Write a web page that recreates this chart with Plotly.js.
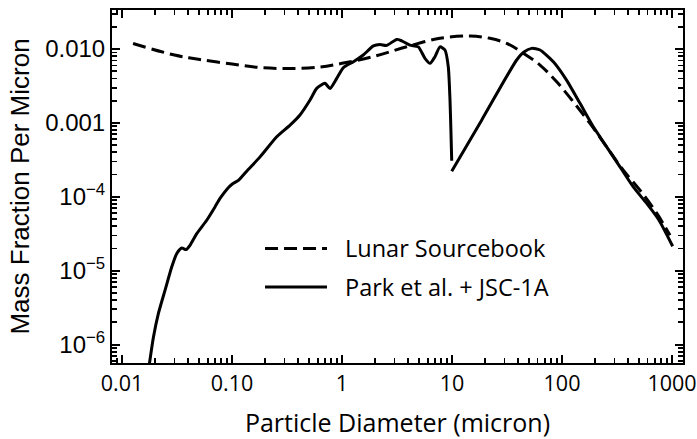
<!DOCTYPE html>
<html>
<head>
<meta charset="utf-8">
<script src="https://cdn.plot.ly/plotly-3.0.1.min.js"></script>
<style>html,body{margin:0;padding:0;background:#fff}#chart{width:697px;height:439px}</style>
</head>
<body>
<div id="chart"></div>
<script>
// Lunar Sourcebook (dashed)
const lunarX = [0.0126,0.030,0.051,0.1,0.18,0.337,0.63,1.0,1.91,3.87,7.78,14.6,22.1,31.4,44.5,63.1,89.5,126.7,179.7,254.7,360.7,511,726,959];
const lunarY = [0.01187,0.00829,0.00721,0.00627,0.00561,0.00545,0.0057,0.0064,0.00787,0.01074,0.01396,0.0150,0.01396,0.01194,0.00875,0.00607,0.0036,0.00193,9.84e-4,4.74e-4,2.29e-4,1.23e-4,6.0e-5,3.02e-5];

// Park et al. + JSC-1A (solid), fine part up to 10 micron
const parkFineX = [0.0174,0.0193,0.0214,0.0246,0.0283,0.0314,0.0349,0.0382,0.0415,0.0478,0.0589,0.070,0.0778,0.09,0.1,0.115,0.136,0.18,0.255,0.337,0.415,0.512,0.589,0.70,0.778,0.895,1.03,1.27,1.56,1.93,2.21,2.55,3.14,3.49,4.15,4.94,5.68,6.31,7.0,7.78,8.63,9.25,9.59,9.79,9.94];
const parkFineY = [4.5e-7,1.26e-6,2.62e-6,5.42e-6,1.12e-5,1.7e-5,2.03e-5,1.93e-5,2.21e-5,3.18e-5,4.82e-5,7.3e-5,9.5e-5,1.27e-4,1.48e-4,1.68e-4,2.22e-4,3.47e-4,6.49e-4,9.33e-4,1.28e-3,2.04e-3,2.93e-3,3.43e-3,2.93e-3,4.01e-3,5.61e-3,6.73e-3,8.3e-3,0.0110,0.0115,0.0112,0.0135,0.0129,0.0113,0.0107,0.00748,0.0064,0.00787,0.0107,0.0097,0.00575,0.00204,7.2e-4,3.07e-4];
// coarse part from 10 micron
const parkCoarseX = [9.94,18.6,38.7,45.1,53,63.1,83.4,110,145.8,192.7,254.7,336.7,444.6,589,762,1014];
const parkCoarseY = [2.22e-4,1.09e-3,0.0071,0.0091,0.0102,0.0097,0.00673,0.0038,1.84e-3,8.86e-4,4.74e-4,2.54e-4,1.36e-4,8.13e-5,4.82e-5,2.14e-5];

const xTickVals = [0.01,0.1,1,10,100,1000];
const xTickText = ["0.01","0.10","1","10","100","1000"];
const yTickVals = [1e-6,1e-5,1e-4,0.001,0.01];
const yTickText = ["10<sup>\u22126</sup>","10<sup>\u22125</sup>","10<sup>\u22124</sup>","0.001","0.010"];
const legendNames = ["Lunar Sourcebook","Park et al. + JSC-1A"];

const parkX = parkFineX.concat([null], parkCoarseX);
const parkY = parkFineY.concat([null], parkCoarseY);

// minor log tick positions (2..9 in each decade)
function minorLogTicks(d0, d1) {
  const out = [];
  for (let d = d0; d <= d1; d++) for (let k = 2; k <= 9; k++) out.push(k * Math.pow(10, d));
  return out;
}

const calibriLike = "'Open Sans', Lato, sans-serif";
const arialLike = "'Liberation Sans', Arial, sans-serif";
const xRange = [-2.091, 3.1];
const yRange = [-6.249, -1.472];

const traces = [
  {x: lunarX, y: lunarY, mode: 'lines', name: legendNames[0],
   line: {color: '#000', width: 3, dash: '13px,6px', shape: 'spline', smoothing: 1}},
  {x: parkX, y: parkY, mode: 'lines', name: legendNames[1], connectgaps: false,
   line: {color: '#000', width: 3, shape: 'spline', smoothing: 0.6}},
  // empty trace that only anchors the minor-tick overlay axes
  {x: [], y: [], xaxis: 'x2', yaxis: 'y2', mode: 'lines', showlegend: false, hoverinfo: 'skip'}
];

const axisCommon = {
  type: 'log', showline: true, linecolor: '#000', linewidth: 2, mirror: 'allticks',
  ticks: 'inside', ticklen: 8, tickwidth: 2, tickcolor: '#000', tickmode: 'array',
  showgrid: false, zeroline: false, ticklabeloverflow: 'allow'
};
const minorAxis = {
  type: 'log', showline: true, linecolor: '#000', linewidth: 2, mirror: 'allticks',
  ticks: 'inside', ticklen: 5, tickwidth: 1.8, tickcolor: '#000', tickmode: 'array',
  showticklabels: false, showgrid: false, zeroline: false
};

const layout = {
  width: 697, height: 439,
  margin: {l: 112, r: 14, t: 10, b: 76},
  paper_bgcolor: '#fff', plot_bgcolor: '#fff',
  showlegend: false,
  xaxis: Object.assign({}, axisCommon, {
    range: xRange, tickvals: xTickVals, ticktext: xTickText,
    tickfont: {family: calibriLike, size: 21.5, color: '#000'},
    title: {text: 'Particle Diameter (micron)', font: {family: calibriLike, size: 25, color: '#000'}, standoff: 20}
  }),
  yaxis: Object.assign({}, axisCommon, {
    range: yRange, tickvals: yTickVals, ticktext: yTickText,
    tickfont: {family: arialLike, size: 24, color: '#000'},
    title: {text: 'Mass Fraction Per Micron', font: {family: arialLike, size: 26, color: '#000'}, standoff: 8}
  }),
  xaxis2: Object.assign({}, minorAxis, {overlaying: 'x', anchor: 'y2', side: 'bottom', range: xRange, tickvals: minorLogTicks(-3, 3)}),
  yaxis2: Object.assign({}, minorAxis, {overlaying: 'y', anchor: 'x2', side: 'left', range: yRange, tickvals: minorLogTicks(-7, -2)}),
  shapes: [
    {type: 'line', xref: 'paper', yref: 'paper', x0: 0.268, x1: 0.3765, y0: 0.3244, y1: 0.3244,
     line: {color: '#000', width: 3, dash: '13px,6px'}},
    {type: 'line', xref: 'paper', yref: 'paper', x0: 0.268, x1: 0.3765, y0: 0.2155, y1: 0.2155,
     line: {color: '#000', width: 3}}
  ],
  annotations: [
    {xref: 'paper', yref: 'paper', x: 0.4046, y: 0.3244, xanchor: 'left', yanchor: 'middle', showarrow: false,
     text: legendNames[0], font: {family: calibriLike, size: 23.5, color: '#000'}},
    {xref: 'paper', yref: 'paper', x: 0.4046, y: 0.2155, xanchor: 'left', yanchor: 'middle', showarrow: false,
     text: legendNames[1], font: {family: calibriLike, size: 23.5, color: '#000'}}
  ]
};

Plotly.newPlot('chart', traces, layout, {staticPlot: true, displayModeBar: false});
</script>
</body>
</html>
